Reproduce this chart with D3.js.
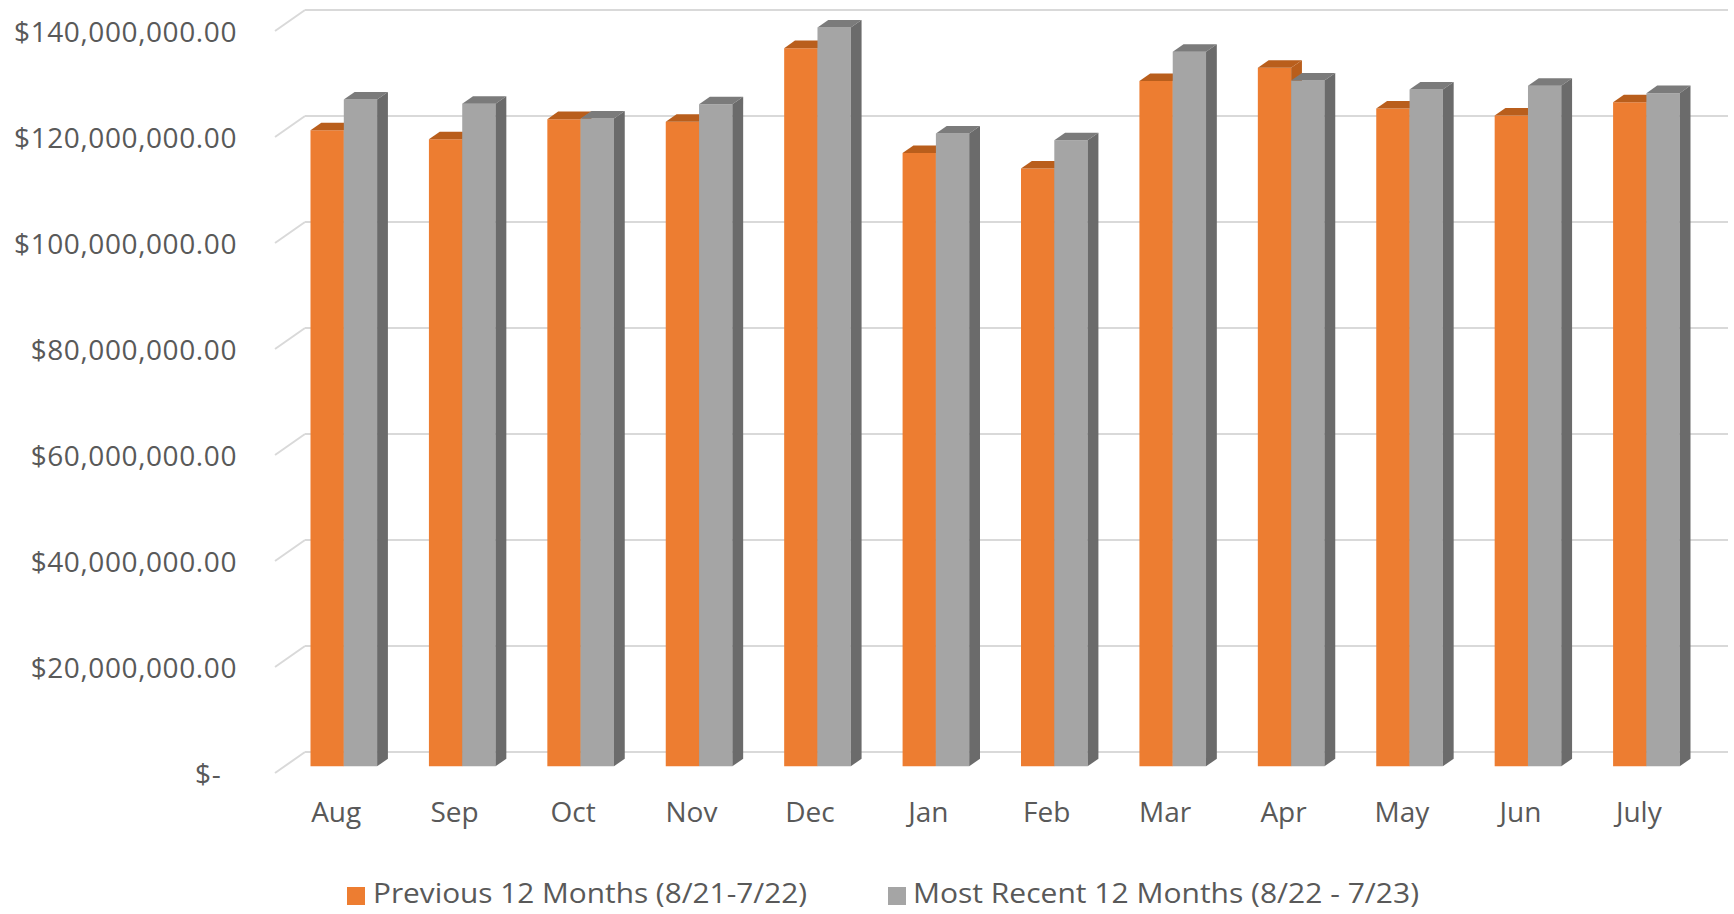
<!DOCTYPE html>
<html>
<head>
<meta charset="utf-8">
<script src="https://cdn.jsdelivr.net/npm/d3@7"></script>
<style>
  html, body { margin: 0; padding: 0; background: #fff; }
  svg { display: block; }
  text { font-family: "Open Sans", "Noto Sans", sans-serif; fill: #595959; }
</style>
</head>
<body>
<svg id="chart" width="1734" height="914"></svg>
<script>
// ---- data ----
const months = ["Aug","Sep","Oct","Nov","Dec","Jan","Feb","Mar","Apr","May","Jun","July"];
const previous12 = [120.0e6, 118.3e6, 122.1e6, 121.6e6, 135.5e6, 115.7e6, 112.8e6, 129.3e6, 131.8e6, 124.1e6, 122.8e6, 125.3e6];
const recent12   = [125.8e6, 125.0e6, 122.2e6, 124.9e6, 139.4e6, 119.4e6, 118.1e6, 134.8e6, 129.4e6, 127.7e6, 128.4e6, 127.0e6];
const seriesNames = ["Previous 12 Months (8/21-7/22)", "Most Recent 12 Months (8/22 - 7/23)"];
const yTicks = [0, 20e6, 40e6, 60e6, 80e6, 100e6, 120e6, 140e6];

// ---- layout ----
const svg = d3.select("#chart");
const floorLeft = 275, floorRight = 1696;
const depthDX = 30, depthDY = -21;       // oblique depth of the floor
const barD0 = 0.32, barD1 = 0.68;         // bar depth span (fraction of floor depth)
const colors = {
  prev:   { front: "#ED7D31", top: "#B95E1C", side: "#B95E1C" },
  recent: { front: "#A5A5A5", top: "#7B7B7B", side: "#6B6B6B" }
};

const y = d3.scaleLinear().domain([0, 140e6]).range([773, 31]);
const x0 = d3.scaleBand().domain(months).range([floorLeft, floorRight])
  .paddingInner(0.4375).paddingOuter(0.21875);
const x1 = d3.scaleBand().domain(["prev","recent"]).range([0, x0.bandwidth()]);
const xLab = d3.scaleBand().domain(months).range([floorLeft, floorRight]);

// ---- gridlines (back wall + left side wall) ----
const grid = svg.append("g");
yTicks.forEach(t => {
  const yf = y(t), yb = y(t) + depthDY;
  grid.append("line")
    .attr("x1", floorLeft).attr("y1", yf)
    .attr("x2", floorLeft + depthDX).attr("y2", yb)
    .attr("stroke", "#D9D9D9").attr("stroke-width", 2);
  grid.append("line")
    .attr("x1", floorLeft + depthDX).attr("y1", yb)
    .attr("x2", floorRight + depthDX + 2).attr("y2", yb)
    .attr("stroke", "#D9D9D9").attr("stroke-width", 2);
});

// ---- y axis labels ----
const fmt = d3.format("$,.2f");
const yAxis = d3.axisLeft(y).tickValues(yTicks)
  .tickFormat(d => d === 0 ? "$-\u00A0\u00A0" : fmt(d))
  .tickSize(0).tickPadding(0);
const yG = svg.append("g").attr("transform", "translate(237,2)").call(yAxis);
yG.select(".domain").remove();
yG.selectAll("text")
  .style("font-family", '"Open Sans", "Noto Sans", sans-serif')
  .style("font-size", "28px").style("letter-spacing", "0.6px")
  .attr("fill", "#595959");

// ---- bars ----
const ox = barD0 * depthDX, oy = barD0 * depthDY;
const bdx = (barD1 - barD0) * depthDX, bdy = (barD1 - barD0) * depthDY;
const bars = svg.append("g");
months.forEach((m, i) => {
  [["prev", previous12[i]], ["recent", recent12[i]]].forEach(([key, v]) => {
    const c = colors[key];
    const xl = x0(m) + x1(key) + ox;
    const xr = xl + x1.bandwidth();
    const yt = y(v) + oy;
    const yb = y(0) + oy;
    // front
    bars.append("polygon")
      .attr("points", [[xl,yb],[xl,yt],[xr,yt],[xr,yb]].map(p => p.join(",")).join(" "))
      .attr("fill", c.front);
    // top
    bars.append("polygon")
      .attr("points", [[xl,yt],[xl+bdx,yt+bdy],[xr+bdx,yt+bdy],[xr,yt]].map(p => p.join(",")).join(" "))
      .attr("fill", c.top);
    // side
    bars.append("polygon")
      .attr("points", [[xr,yt],[xr+bdx,yt+bdy],[xr+bdx,yb+bdy],[xr,yb]].map(p => p.join(",")).join(" "))
      .attr("fill", c.side);
  });
});

// ---- x labels ----
svg.append("g").selectAll("text").data(months).join("text")
  .attr("x", d => xLab(d) + xLab.bandwidth() / 2 + 2)
  .attr("y", 822)
  .attr("text-anchor", "middle")
  .style("font-size", "28px")
  .text(d => d);

// ---- legend ----
const legend = svg.append("g");
const legItems = [
  { name: seriesNames[0], color: colors.prev.front, sx: 347, tx: 373, tw: 434 },
  { name: seriesNames[1], color: colors.recent.front, sx: 888, tx: 913, tw: 506 }
];
legItems.forEach(d => {
  legend.append("rect").attr("x", d.sx).attr("y", 887).attr("width", 18).attr("height", 18).attr("fill", d.color);
  legend.append("text").attr("x", d.tx).attr("y", 903)
    .style("font-size", "28px")
    .attr("textLength", d.tw).attr("lengthAdjust", "spacingAndGlyphs")
    .text(d.name);
});
</script>
</body>
</html>
